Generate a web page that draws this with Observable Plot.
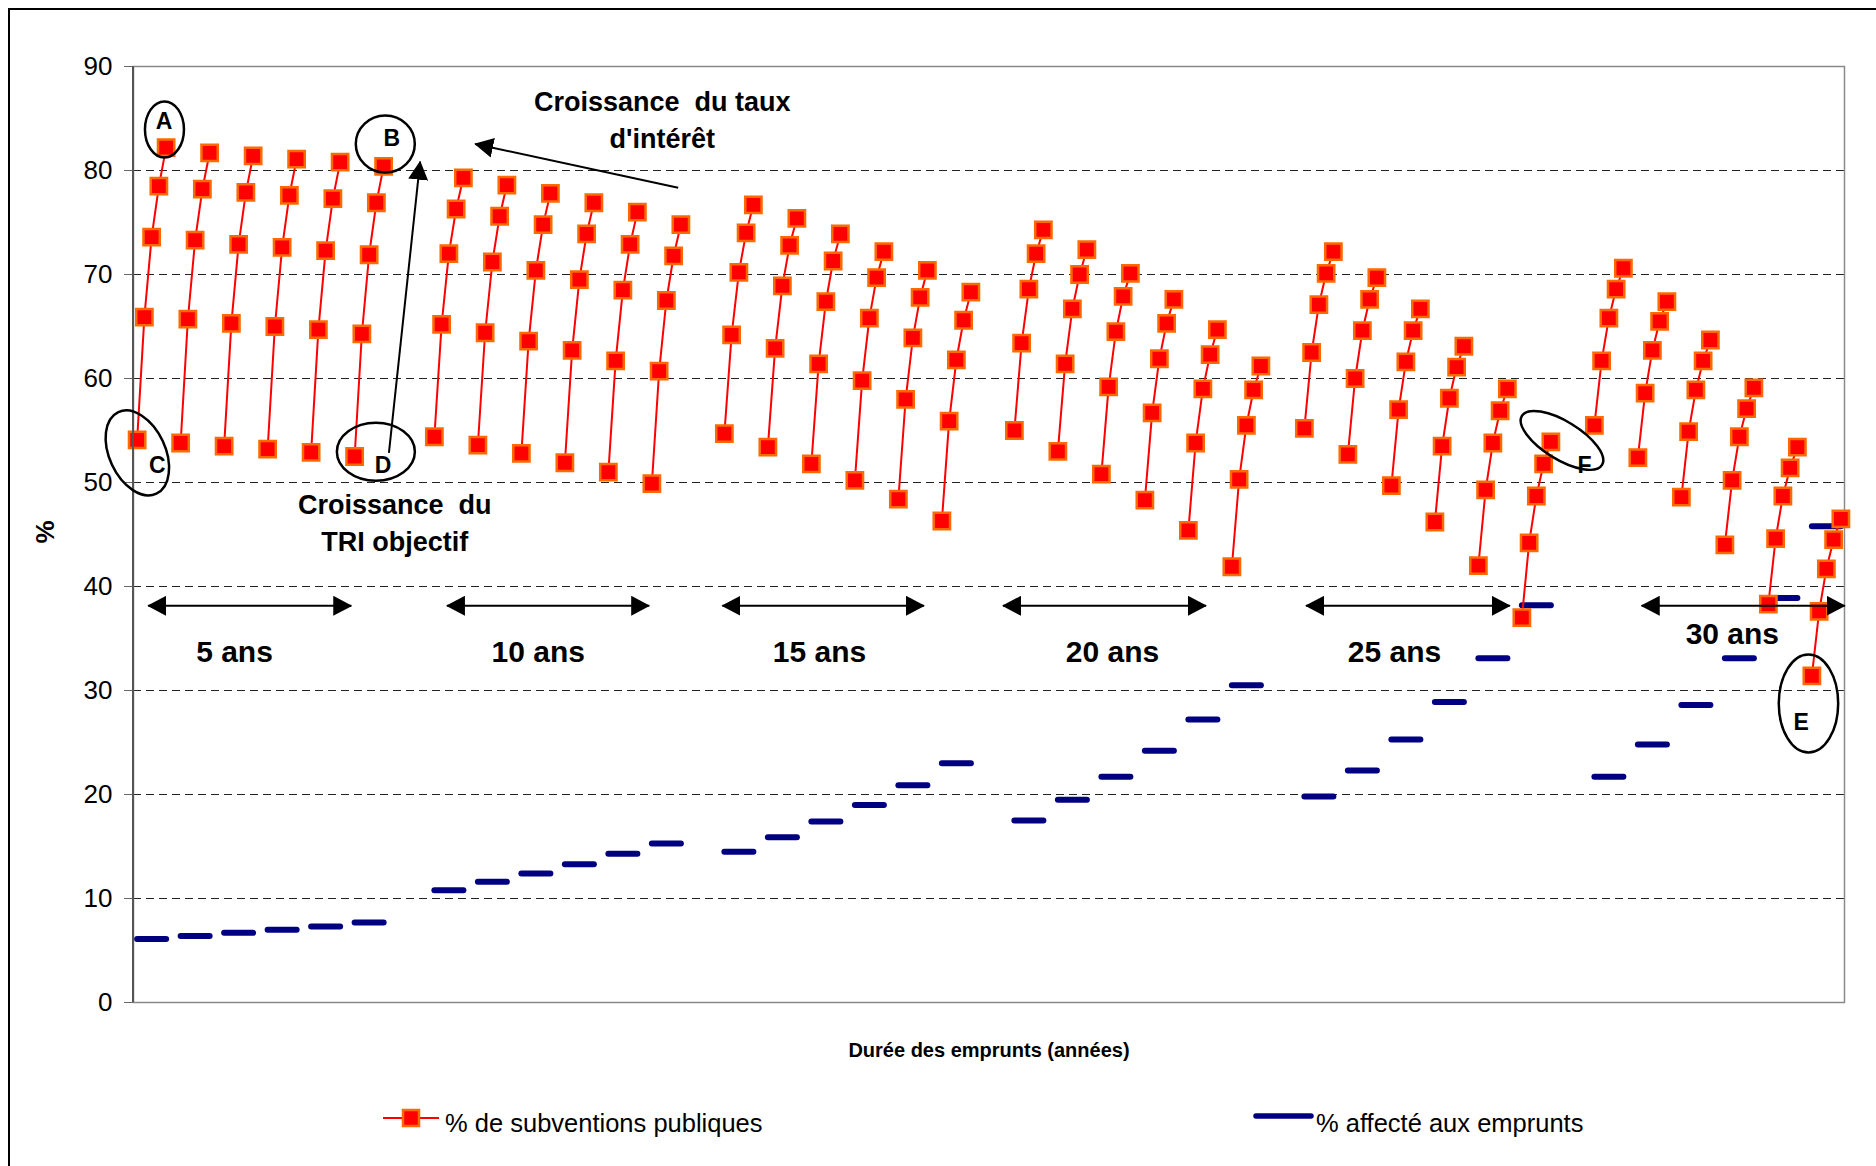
<!DOCTYPE html>
<html>
<head>
<meta charset="utf-8">
<script src="https://cdn.jsdelivr.net/npm/d3@7"></script>
<script src="https://cdn.jsdelivr.net/npm/@observablehq/plot@0.6"></script>
<style>
html,body{margin:0;padding:0;background:#fff;}
#wrap{position:relative;width:1876px;height:1166px;overflow:hidden;background:#fff;}
#frame{position:absolute;left:8px;top:8px;width:1900px;height:1200px;border-left:2.5px solid #000;border-top:2.5px solid #000;box-sizing:border-box;pointer-events:none;}
svg{font-family:"Liberation Sans",Arial,sans-serif;}
</style>
</head>
<body>
<div id="wrap"><div id="chart"></div><div id="frame"></div></div>
<script>
// ---------- DATA ----------
const durations = [5, 10, 15, 20, 25, 30];
const durationLabels = ["5 ans", "10 ans", "15 ans", "20 ans", "25 ans", "30 ans"];
const blanksBetweenDurations = [6, 5, 5, 5, 5]; // empty category slots between duration blocks
const yTicks = [0, 10, 20, 30, 40, 50, 60, 70, 80, 90];

// % de subventions publiques : per duration, 6 interest-rate groups x 5 TRI levels
const sub05 = [
  [54.1, 65.9, 73.6, 78.5, 82.2],
  [53.8, 65.7, 73.3, 78.2, 81.7],
  [53.5, 65.3, 72.9, 77.9, 81.4],
  [53.2, 65.0, 72.6, 77.6, 81.1],
  [52.9, 64.7, 72.3, 77.3, 80.8],
  [52.5, 64.3, 71.9, 76.9, 80.4]];
const sub10 = [
  [54.4, 65.2, 72.0, 76.3, 79.3],
  [53.6, 64.4, 71.2, 75.6, 78.6],
  [52.8, 63.6, 70.4, 74.8, 77.8],
  [51.9, 62.7, 69.5, 73.9, 76.9],
  [51.0, 61.7, 68.5, 72.9, 76.0],
  [49.9, 60.7, 67.5, 71.8, 74.8]];
const sub15 = [
  [54.7, 64.2, 70.2, 74.0, 76.7],
  [53.4, 62.9, 68.9, 72.8, 75.4],
  [51.8, 61.4, 67.4, 71.3, 73.9],
  [50.2, 59.8, 65.8, 69.7, 72.2],
  [48.4, 58.0, 63.9, 67.8, 70.4],
  [46.3, 55.9, 61.8, 65.6, 68.3]];
const sub20 = [
  [55.0, 63.4, 68.6, 72.0, 74.3],
  [53.0, 61.4, 66.7, 70.0, 72.4],
  [50.8, 59.2, 64.5, 67.9, 70.1],
  [48.3, 56.7, 61.9, 65.3, 67.6],
  [45.4, 53.8, 59.0, 62.3, 64.7],
  [41.9, 50.3, 55.5, 58.9, 61.2]];
const sub25 = [
  [55.2, 62.5, 67.1, 70.1, 72.2],
  [52.7, 60.0, 64.6, 67.6, 69.7],
  [49.7, 57.0, 61.6, 64.6, 66.7],
  [46.2, 53.5, 58.1, 61.1, 63.1],
  [42.0, 49.3, 53.8, 56.9, 59.0],
  [37.0, 44.2, 48.7, 51.8, 53.9]];
const sub30 = [
  [55.5, 61.7, 65.8, 68.6, 70.6],
  [52.4, 58.6, 62.7, 65.5, 67.4],
  [48.6, 54.9, 58.9, 61.7, 63.7],
  [44.0, 50.2, 54.4, 57.1, 59.1],
  [38.3, 44.6, 48.7, 51.4, 53.4],
  [31.4, 37.6, 41.7, 44.5, 46.5]];

// % affecté aux emprunts : one value per interest-rate group
const aff05 = [6.1, 6.4, 6.7, 7.0, 7.3, 7.7];
const aff10 = [10.8, 11.6, 12.4, 13.3, 14.3, 15.3];
const aff15 = [14.5, 15.9, 17.4, 19.0, 20.9, 23.0];
const aff20 = [17.5, 19.5, 21.7, 24.2, 27.2, 30.5];
const aff25 = [19.8, 22.3, 25.3, 28.9, 33.1, 38.2];
const aff30 = [21.7, 24.8, 28.6, 33.1, 38.9, 45.8];

const subByDuration = [sub05, sub10, sub15, sub20, sub25, sub30];
const affByDuration = [aff05, aff10, aff15, aff20, aff25, aff30];

// ---------- BUILD CATEGORIES & ROWS ----------
const categories = [];
const subRows = [];
const affRows = [];
let blankId = 0;
durations.forEach((d, di) => {
  subByDuration[di].forEach((grp, g) => {
    if (g > 0) categories.push("blank" + (blankId++));
    grp.forEach((v, p) => {
      const cat = `${d}-${g}-${p}`;
      categories.push(cat);
      subRows.push({cat, v, grp: `${d}-${g}`});
      affRows.push({cat, v: affByDuration[di][g], grp: `${d}-${g}`});
    });
  });
  if (di < blanksBetweenDurations.length) {
    for (let k = 0; k < blanksBetweenDurations[di]; k++) categories.push("blank" + (blankId++));
  }
});

// ---------- CHART ----------
const W = 1876, H = 1166;
const chart = Plot.plot({
  width: W, height: H,
  marginLeft: 133, marginRight: 32, marginTop: 66, marginBottom: 164,
  style: {fontFamily: '"Liberation Sans", Arial, sans-serif', background: "#fff", overflow: "visible"},
  x: {type: "point", domain: categories, padding: 0.5, axis: null},
  y: {domain: [0, 90], axis: null},
  marks: [
    Plot.ruleY(yTicks.filter(t => t > 0 && t < 90), {stroke: "#222", strokeWidth: 1, strokeDasharray: "8,5"}),
    Plot.frame({stroke: "#8a8a8a", strokeWidth: 1.5}),
    Plot.axisY({ticks: yTicks, tickSize: 9, tickPadding: 12, fontSize: 26, stroke: "#666", fill: "#000", tickFormat: d => d, label: null}),
    Plot.lineY(affRows, {x: "cat", y: "v", z: "grp", stroke: "#000080", strokeWidth: 6, strokeLinecap: "round"}),
    Plot.line(subRows, {x: "cat", y: "v", z: "grp", stroke: "#ff0000", strokeWidth: 2}),
    Plot.dot(subRows, {x: "cat", y: "v", symbol: "square", r: 9.2, fill: "#ff0000", stroke: "#ff6a00", strokeWidth: 2.5})
  ]
});
document.getElementById("chart").appendChild(chart);

// ---------- ANNOTATIONS (in category-index / value units) ----------
const sx = chart.scale("x"), sy = chart.scale("y");
const x0 = sx.apply(categories[0]), step = sx.apply(categories[1]) - x0;
const X = i => x0 + i * step;
const Y = v => sy.apply(v);

const svg = d3.select(chart);
const defs = svg.append("defs");
defs.append("marker").attr("id", "ah").attr("viewBox", "0 0 19 20").attr("refX", 18).attr("refY", 10)
  .attr("markerWidth", 19).attr("markerHeight", 20).attr("markerUnits", "userSpaceOnUse")
  .attr("orient", "auto-start-reverse")
  .append("path").attr("d", "M0,0L19,10L0,20Z").attr("fill", "#000");

const ann = svg.append("g").attr("text-anchor", "middle");
// left axis line darker
ann.append("line").attr("x1", X(-0.5)).attr("x2", X(-0.5)).attr("y1", Y(0)).attr("y2", Y(90))
  .attr("stroke", "#555").attr("stroke-width", 2);

// double-headed duration arrows
const spanStart = [1.6, 42.8, 80.8, 119.5, 161.3, 207.6];
const spanEnd = [29.6, 70.7, 108.6, 147.5, 189.4, 235.6];
const spanLabelX = [13.5, 55.4, 94.2, 134.6, 173.5, 220.1];
const spanLabelY = [33.7, 33.7, 33.7, 33.7, 33.7, 35.4];
const spanY = 38.1;
durationLabels.forEach((lab, k) => {
  ann.append("line").attr("x1", X(spanStart[k])).attr("x2", X(spanEnd[k]))
    .attr("y1", Y(spanY)).attr("y2", Y(spanY))
    .attr("stroke", "#000").attr("stroke-width", 2)
    .attr("marker-start", "url(#ah)").attr("marker-end", "url(#ah)");
  ann.append("text").attr("x", X(spanLabelX[k])).attr("y", Y(spanLabelY[k]))
    .attr("text-anchor", "middle").attr("dominant-baseline", "central")
    .attr("font-weight", "bold").attr("font-size", 30).text(lab);
});

// ellipses with letters
const circles = [
  {t: "A", cx: 3.84, cy: 83.9, rx: 19.5, ry: 28, rot: 0, tx: 3.8, ty: 84.7},
  {t: "B", cx: 34.3, cy: 82.5, rx: 29.5, ry: 28.5, rot: 0, tx: 35.2, ty: 83.1},
  {t: "C", cx: 0.1, cy: 52.8, rx: 28, ry: 45, rot: -25, tx: 2.84, ty: 51.6},
  {t: "D", cx: 33.0, cy: 52.9, rx: 39, ry: 29, rot: 0, tx: 34.0, ty: 51.6},
  {t: "E", cx: 230.6, cy: 28.7, rx: 29.7, ry: 49, rot: 0, tx: 229.6, ty: 26.9},
  {t: "F", cx: 196.6, cy: 54.0, rx: 47, ry: 19, rot: 31.5, tx: 199.7, ty: 51.6}
];
circles.forEach(c => {
  const cx = X(c.cx), cy = Y(c.cy);
  ann.append("ellipse").attr("cx", cx).attr("cy", cy).attr("rx", c.rx).attr("ry", c.ry)
    .attr("transform", `rotate(${c.rot},${cx},${cy})`)
    .attr("fill", "none").attr("stroke", "#000").attr("stroke-width", 2.5);
  ann.append("text").attr("x", X(c.tx)).attr("y", Y(c.ty))
    .attr("text-anchor", "middle").attr("dominant-baseline", "central")
    .attr("font-weight", "bold").attr("font-size", 23).text(c.t);
});

// single arrows
const arrows = [
  {x1: 34.8, y1: 52.8, x2: 39.1, y2: 80.8},
  {x1: 74.7, y1: 78.3, x2: 46.7, y2: 82.5}
];
arrows.forEach(a => {
  ann.append("line").attr("x1", X(a.x1)).attr("y1", Y(a.y1)).attr("x2", X(a.x2)).attr("y2", Y(a.y2))
    .attr("stroke", "#000").attr("stroke-width", 2).attr("marker-end", "url(#ah)");
});

// explanatory texts
const notes = [
  {t: "Croissance\u00a0\u00a0du taux", x: 72.5, y: 86.5},
  {t: "d'intérêt", x: 72.5, y: 83.0},
  {t: "Croissance\u00a0\u00a0du", x: 35.6, y: 47.8},
  {t: "TRI objectif", x: 35.6, y: 44.2}
];
notes.forEach(n => {
  ann.append("text").attr("x", X(n.x)).attr("y", Y(n.y))
    .attr("text-anchor", "middle").attr("dominant-baseline", "central")
    .attr("font-weight", "bold").attr("font-size", 27).text(n.t);
});

// axis titles
ann.append("text").attr("transform", `translate(45,${Y(45.2)}) rotate(-90)`)
  .attr("text-anchor", "middle").attr("dominant-baseline", "central")
  .attr("font-weight", "bold").attr("font-size", 26).text("%");
ann.append("text").attr("x", 989).attr("y", 1050)
  .attr("text-anchor", "middle").attr("dominant-baseline", "central")
  .attr("font-weight", "bold").attr("font-size", 20).text("Durée des emprunts (années)");

// legend
const lg = svg.append("g").attr("text-anchor", "start");
lg.append("line").attr("x1", 383).attr("x2", 439).attr("y1", 1118).attr("y2", 1118)
  .attr("stroke", "#ff0000").attr("stroke-width", 2);
lg.append("rect").attr("x", 403).attr("y", 1110).attr("width", 16).attr("height", 16)
  .attr("fill", "#ff0000").attr("stroke", "#ff6a00").attr("stroke-width", 2.5);
lg.append("text").attr("x", 445).attr("y", 1123).attr("text-anchor", "start").attr("dominant-baseline", "central")
  .attr("font-size", 25.5).text("% de subventions publiques");
lg.append("line").attr("x1", 1256).attr("x2", 1311).attr("y1", 1116).attr("y2", 1116)
  .attr("stroke", "#000080").attr("stroke-width", 5.5).attr("stroke-linecap", "round");
lg.append("text").attr("x", 1316).attr("y", 1123).attr("text-anchor", "start").attr("dominant-baseline", "central")
  .attr("font-size", 25.5).text("% affecté aux emprunts");
</script>
</body>
</html>
